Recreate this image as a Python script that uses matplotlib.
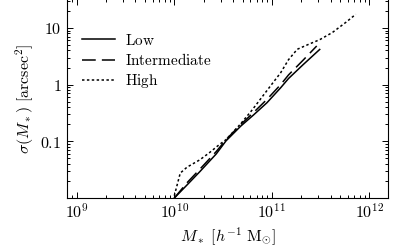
import matplotlib
matplotlib.use("Agg")
import matplotlib.pyplot as plt
from matplotlib.ticker import LogLocator, NullFormatter

plt.rcParams['mathtext.fontset'] = 'cm'
plt.rcParams['font.family'] = ['DejaVu Serif']

# --- data ---
low_mass = [1.0e10, 1.35e10, 1.82e10, 2.69e10, 3.39e10, 4.79e10, 6.46e10, 8.91e10,
            1.23e11, 1.48e11, 2.09e11, 3.09e11]
low_sigma = [0.010, 0.017, 0.029, 0.060, 0.102, 0.185, 0.29, 0.48,
             0.88, 1.28, 2.25, 4.17]

int_mass = [1.0e10, 1.35e10, 1.82e10, 2.69e10, 3.39e10, 4.79e10, 6.46e10, 8.91e10,
            1.23e11, 1.48e11, 2.09e11, 2.88e11]
int_sigma = [0.010, 0.0186, 0.032, 0.066, 0.107, 0.198, 0.32, 0.55,
             1.0, 1.48, 2.7, 4.8]

high_mass = [1.0e10, 1.15e10, 1.35e10, 1.82e10, 2.29e10, 2.88e10, 3.39e10, 4.79e10,
             6.3e10, 9.5e10, 1.23e11, 1.48e11, 1.82e11, 2.45e11, 3.09e11, 4.17e11,
             5.75e11, 7.24e11]
high_sigma = [0.011, 0.0275, 0.035, 0.047, 0.063, 0.087, 0.107, 0.204,
              0.36, 0.91, 1.62, 2.75, 4.2, 5.25, 6.2, 8.3, 12.6, 17.4]

labels = [r'$\mathrm{Low}$', r'$\mathrm{Intermediate}$', r'$\mathrm{High}$']
xtick_vals = [1e9, 1e10, 1e11, 1e12]
xtick_labels = [r'$10^{9}$', r'$10^{10}$', r'$10^{11}$', r'$10^{12}$']
ytick_vals = [0.1, 1, 10]
ytick_labels = [r'$0.1$', r'$1$', r'$10$']

fig = plt.figure(figsize=(4.0, 2.47), dpi=100)
W, H = 400.0, 247.0
ax = fig.add_axes([67 / W, (H - 198) / H, 321 / W, 199 / H])

ax.plot(low_mass, low_sigma, color='black', lw=1.1, ls='-', label=labels[0])
ax.plot(int_mass, int_sigma, color='black', lw=1.1, ls=(0, (9, 4)), label=labels[1])
ax.plot(high_mass, high_sigma, color='black', lw=1.1, ls=(0, (1.6, 1.6)), label=labels[2])

ax.set_xscale('log')
ax.set_yscale('log')
ax.set_xlim(10 ** 8.9, 10 ** 12.19)
ax.set_ylim(0.01, 10 ** 1.51)

ax.set_xticks(xtick_vals, xtick_labels)
ax.set_yticks(ytick_vals, ytick_labels)
ax.xaxis.set_minor_locator(LogLocator(base=10, subs=range(2, 10), numticks=20))
ax.yaxis.set_minor_locator(LogLocator(base=10, subs=range(2, 10), numticks=20))
ax.xaxis.set_minor_formatter(NullFormatter())
ax.yaxis.set_minor_formatter(NullFormatter())

ax.tick_params(which='both', direction='in', top=True, right=True, labelsize=11.5, width=0.7)
ax.tick_params(which='major', length=4.5, pad=4)
ax.tick_params(which='minor', length=2.5)
for s in ax.spines.values():
    s.set_linewidth(0.8)

ax.set_xlabel(r'$M_*\ [h^{-1}\ \mathrm{M}_{\odot}]$', fontsize=11.5, labelpad=2)
ax.set_ylabel(r'$\sigma(M_*)\ [\mathrm{arcsec}^2]$', fontsize=11.5, labelpad=3)

ax.legend(loc='upper left', bbox_to_anchor=(0.047, 0.83), frameon=False,
          fontsize=11, handlelength=2.15, handletextpad=0.65, labelspacing=0.27,
          borderaxespad=0.0, borderpad=0.0)

fig.savefig('out.png', dpi=100)
